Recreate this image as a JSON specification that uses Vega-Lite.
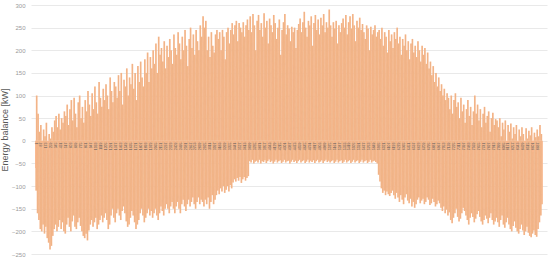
{"$schema":"https://vega.github.io/schema/vega-lite/v6.json","width":516,"height":249,"autosize":"none","padding":{"left":31,"top":5,"right":3,"bottom":5},"background":"white","config":{"view":{"stroke":null},"font":"Liberation Sans"},
"data":{"values":[
{"h":1,"v":-60},{"h":4,"v":-110},{"h":13,"v":100},{"h":28,"v":-160},{"h":37,"v":60},{"h":52,"v":-175},{"h":61,"v":20},{"h":76,"v":-195},{"h":85,"v":35},{"h":100,"v":-200},{"h":109,"v":-10},{"h":124,"v":-185},{"h":133,"v":25},{"h":148,"v":-205},{"h":157,"v":10},{"h":172,"v":-190},{"h":181,"v":40},{"h":196,"v":-215},{"h":205,"v":-20},{"h":220,"v":-225},{"h":229,"v":15},{"h":244,"v":-240},{"h":253,"v":5},{"h":268,"v":-232},{"h":277,"v":30},{"h":292,"v":-210},{"h":301,"v":20},{"h":316,"v":-195},{"h":325,"v":45},{"h":340,"v":-185},{"h":349,"v":55},{"h":364,"v":-200},{"h":373,"v":30},{"h":388,"v":-190},{"h":397,"v":60},{"h":412,"v":-175},{"h":421,"v":25},{"h":436,"v":-195},{"h":445,"v":50},{"h":460,"v":-180},{"h":469,"v":40},{"h":484,"v":-200},{"h":493,"v":65},
{"h":508,"v":-205},{"h":517,"v":55},{"h":532,"v":-185},{"h":541,"v":80},{"h":556,"v":-170},{"h":565,"v":35},{"h":580,"v":-190},{"h":589,"v":70},{"h":604,"v":-200},{"h":613,"v":90},{"h":628,"v":-178},{"h":637,"v":45},{"h":652,"v":-165},{"h":661,"v":95},{"h":676,"v":-190},{"h":685,"v":60},{"h":700,"v":-195},{"h":709,"v":30},{"h":724,"v":-180},{"h":733,"v":85},{"h":748,"v":-170},{"h":757,"v":100},{"h":772,"v":-188},{"h":781,"v":50},{"h":796,"v":-200},{"h":805,"v":75},{"h":820,"v":-210},{"h":829,"v":40},{"h":844,"v":-215},{"h":853,"v":90},{"h":868,"v":-205},{"h":877,"v":65},{"h":892,"v":-220},{"h":901,"v":110},{"h":916,"v":-198},{"h":925,"v":80},{"h":940,"v":-185},{"h":949,"v":55},{"h":964,"v":-175},{"h":973,"v":105},{"h":988,"v":-190},{"h":997,"v":70},{"h":1012,"v":-180},{"h":1021,"v":120},{"h":1036,"v":-170},{"h":1045,"v":85},{"h":1060,"v":-195},{"h":1069,"v":60},{"h":1084,"v":-185},{"h":1093,"v":130},{"h":1108,"v":-175},{"h":1117,"v":95},{"h":1132,"v":-165},{"h":1141,"v":75},{"h":1156,"v":-180},{"h":1165,"v":115},
{"h":1180,"v":-170},{"h":1189,"v":90},{"h":1204,"v":-160},{"h":1213,"v":125},{"h":1228,"v":-175},{"h":1237,"v":100},{"h":1252,"v":-195},{"h":1261,"v":70},{"h":1276,"v":-185},{"h":1285,"v":140},{"h":1300,"v":-165},{"h":1309,"v":110},{"h":1324,"v":-150},{"h":1333,"v":85},{"h":1348,"v":-170},{"h":1357,"v":130},{"h":1372,"v":-180},{"h":1381,"v":120},{"h":1396,"v":-160},{"h":1405,"v":95},{"h":1420,"v":-150},{"h":1429,"v":145},{"h":1444,"v":-165},{"h":1453,"v":110},{"h":1468,"v":-175},{"h":1477,"v":150},{"h":1492,"v":-155},{"h":1501,"v":80},{"h":1516,"v":-145},{"h":1525,"v":135},{"h":1540,"v":-160},{"h":1549,"v":120},{"h":1564,"v":-178},{"h":1573,"v":160},{"h":1588,"v":-190},{"h":1597,"v":100},{"h":1612,"v":-185},{"h":1621,"v":140},{"h":1636,"v":-170},{"h":1645,"v":125},{"h":1660,"v":-155},{"h":1669,"v":170},{"h":1684,"v":-165},{"h":1693,"v":115},{"h":1708,"v":-180},{"h":1717,"v":150},{"h":1732,"v":-195},{"h":1741,"v":90},{"h":1756,"v":-185},{"h":1765,"v":165},{"h":1780,"v":-175},{"h":1789,"v":130},{"h":1804,"v":-160},{"h":1813,"v":175},{"h":1828,"v":-150},{"h":1837,"v":140},{"h":1852,"v":-165},{"h":1861,"v":120},{"h":1876,"v":-180},{"h":1885,"v":180},{"h":1900,"v":-170},{"h":1909,"v":150},{"h":1924,"v":-160},{"h":1933,"v":195},{"h":1948,"v":-150},{"h":1957,"v":130},{"h":1972,"v":-165},{"h":1981,"v":185},{"h":1996,"v":-155},{"h":2005,"v":160},
{"h":2020,"v":-170},{"h":2029,"v":200},{"h":2044,"v":-160},{"h":2053,"v":170},{"h":2068,"v":-150},{"h":2077,"v":215},{"h":2092,"v":-165},{"h":2101,"v":150},{"h":2116,"v":-175},{"h":2125,"v":230},{"h":2140,"v":-160},{"h":2149,"v":190},{"h":2164,"v":-145},{"h":2173,"v":205},{"h":2188,"v":-155},{"h":2197,"v":175},{"h":2212,"v":-165},{"h":2221,"v":220},{"h":2236,"v":-150},{"h":2245,"v":160},{"h":2260,"v":-140},{"h":2269,"v":210},{"h":2284,"v":-150},{"h":2293,"v":185},{"h":2308,"v":-160},{"h":2317,"v":225},{"h":2332,"v":-145},{"h":2341,"v":200},{"h":2356,"v":-135},{"h":2365,"v":170},{"h":2380,"v":-150},{"h":2389,"v":235},{"h":2404,"v":-160},{"h":2413,"v":205},{"h":2428,"v":-145},{"h":2437,"v":190},{"h":2452,"v":-135},{"h":2461,"v":240},{"h":2476,"v":-150},{"h":2485,"v":215},{"h":2500,"v":-160},{"h":2509,"v":180},{"h":2524,"v":-140},{"h":2533,"v":230},{"h":2548,"v":-130},{"h":2557,"v":200},{"h":2572,"v":-145},{"h":2581,"v":245},{"h":2596,"v":-155},{"h":2605,"v":210},{"h":2620,"v":-140},{"h":2629,"v":165},{"h":2644,"v":-130},{"h":2653,"v":225},{"h":2668,"v":-145},{"h":2677,"v":250},{"h":2692,"v":-135},{"h":2701,"v":205},{"h":2716,"v":-125},{"h":2725,"v":235},{"h":2740,"v":-140},{"h":2749,"v":190},{"h":2764,"v":-150},{"h":2773,"v":245},{"h":2788,"v":-135},{"h":2797,"v":220},{"h":2812,"v":-125},{"h":2821,"v":200},{"h":2836,"v":-140},{"h":2845,"v":255},{"h":2860,"v":-130},{"h":2869,"v":230},
{"h":2884,"v":-135},{"h":2893,"v":275},{"h":2908,"v":-145},{"h":2917,"v":250},{"h":2932,"v":-130},{"h":2941,"v":265},{"h":2956,"v":-140},{"h":2965,"v":200},{"h":2980,"v":-125},{"h":2989,"v":230},{"h":3004,"v":-150},{"h":3013,"v":185},{"h":3028,"v":-135},{"h":3037,"v":240},{"h":3052,"v":-120},{"h":3061,"v":210},{"h":3076,"v":-140},{"h":3085,"v":195},{"h":3100,"v":-130},{"h":3109,"v":235},{"h":3124,"v":-120},{"h":3133,"v":245},{"h":3148,"v":-110},{"h":3157,"v":225},{"h":3172,"v":-118},{"h":3181,"v":240},{"h":3196,"v":-105},{"h":3205,"v":200},{"h":3220,"v":-112},{"h":3229,"v":245},{"h":3244,"v":-100},{"h":3253,"v":230},{"h":3268,"v":-115},{"h":3277,"v":180},{"h":3292,"v":-108},{"h":3301,"v":240},{"h":3316,"v":-100},{"h":3325,"v":250},{"h":3340,"v":-112},{"h":3349,"v":215},{"h":3364,"v":-98},{"h":3373,"v":245},{"h":3388,"v":-105},{"h":3397,"v":260},{"h":3412,"v":-92},{"h":3421,"v":235},{"h":3436,"v":-85},{"h":3445,"v":255},{"h":3460,"v":-90},{"h":3469,"v":265},{"h":3484,"v":-82},{"h":3493,"v":220},{"h":3508,"v":-88},{"h":3517,"v":260},{"h":3532,"v":-80},{"h":3541,"v":250},{"h":3556,"v":-93},{"h":3565,"v":240},{"h":3580,"v":-85},{"h":3589,"v":262},{"h":3604,"v":-80},{"h":3613,"v":230},{"h":3628,"v":-88},{"h":3637,"v":255},{"h":3652,"v":-82},{"h":3661,"v":268},{"h":3676,"v":-78},{"h":3685,"v":245},
{"h":3700,"v":-45},{"h":3709,"v":275},{"h":3724,"v":-48},{"h":3733,"v":240},{"h":3748,"v":-42},{"h":3757,"v":280},{"h":3772,"v":-50},{"h":3781,"v":255},{"h":3796,"v":-46},{"h":3805,"v":200},{"h":3820,"v":-44},{"h":3829,"v":265},{"h":3844,"v":-48},{"h":3853,"v":278},{"h":3868,"v":-42},{"h":3877,"v":245},{"h":3892,"v":-50},{"h":3901,"v":260},{"h":3916,"v":-45},{"h":3925,"v":230},{"h":3940,"v":-47},{"h":3949,"v":282},{"h":3964,"v":-43},{"h":3973,"v":250},{"h":3988,"v":-49},{"h":3997,"v":265},{"h":4012,"v":-45},{"h":4021,"v":215},{"h":4036,"v":-41},{"h":4045,"v":270},{"h":4060,"v":-47},{"h":4069,"v":255},{"h":4084,"v":-44},{"h":4093,"v":240},{"h":4108,"v":-50},{"h":4117,"v":278},{"h":4132,"v":-46},{"h":4141,"v":260},{"h":4156,"v":-42},{"h":4165,"v":225},{"h":4180,"v":-48},{"h":4189,"v":250},{"h":4204,"v":-45},{"h":4213,"v":268},{"h":4228,"v":-43},{"h":4237,"v":190},{"h":4252,"v":-49},{"h":4261,"v":245},{"h":4276,"v":-46},{"h":4285,"v":262},{"h":4300,"v":-42},{"h":4309,"v":280},{"h":4324,"v":-48},{"h":4333,"v":235},{"h":4348,"v":-45},{"h":4357,"v":255},{"h":4372,"v":-44},{"h":4381,"v":248},{"h":4396,"v":-50},{"h":4405,"v":220},{"h":4420,"v":-46},{"h":4429,"v":252},{"h":4444,"v":-42},{"h":4453,"v":240},{"h":4468,"v":-47},{"h":4477,"v":250},{"h":4492,"v":-44},{"h":4501,"v":205},{"h":4516,"v":-49},{"h":4525,"v":245},{"h":4540,"v":-45},{"h":4549,"v":258},
{"h":4564,"v":-42},{"h":4573,"v":270},{"h":4588,"v":-48},{"h":4597,"v":240},{"h":4612,"v":-45},{"h":4621,"v":262},{"h":4636,"v":-43},{"h":4645,"v":285},{"h":4660,"v":-49},{"h":4669,"v":250},{"h":4684,"v":-46},{"h":4693,"v":230},{"h":4708,"v":-42},{"h":4717,"v":265},{"h":4732,"v":-48},{"h":4741,"v":255},{"h":4756,"v":-44},{"h":4765,"v":275},{"h":4780,"v":-47},{"h":4789,"v":210},{"h":4804,"v":-43},{"h":4813,"v":260},{"h":4828,"v":-49},{"h":4837,"v":278},{"h":4852,"v":-45},{"h":4861,"v":245},{"h":4876,"v":-42},{"h":4885,"v":268},{"h":4900,"v":-48},{"h":4909,"v":235},{"h":4924,"v":-46},{"h":4933,"v":272},{"h":4948,"v":-43},{"h":4957,"v":255},{"h":4972,"v":-49},{"h":4981,"v":280},{"h":4996,"v":-45},{"h":5005,"v":240},{"h":5020,"v":-42},{"h":5029,"v":262},{"h":5044,"v":-47},{"h":5053,"v":250},{"h":5068,"v":-44},{"h":5077,"v":290},{"h":5092,"v":-48},{"h":5101,"v":255},{"h":5116,"v":-45},{"h":5125,"v":230},{"h":5140,"v":-43},{"h":5149,"v":262},{"h":5164,"v":-49},{"h":5173,"v":248},{"h":5188,"v":-46},{"h":5197,"v":265},{"h":5212,"v":-42},{"h":5221,"v":215},{"h":5236,"v":-48},{"h":5245,"v":255},{"h":5260,"v":-45},{"h":5269,"v":240},{"h":5284,"v":-43},{"h":5293,"v":260},{"h":5308,"v":-49},{"h":5317,"v":270},{"h":5332,"v":-46},{"h":5341,"v":250},{"h":5356,"v":-42},{"h":5365,"v":278},{"h":5380,"v":-48},{"h":5389,"v":235},{"h":5404,"v":-45},{"h":5413,"v":262},{"h":5428,"v":-43},{"h":5437,"v":275},{"h":5452,"v":-49},{"h":5461,"v":248},{"h":5476,"v":-46},{"h":5485,"v":280},{"h":5500,"v":-42},{"h":5509,"v":255},{"h":5524,"v":-48},{"h":5533,"v":220},{"h":5548,"v":-45},{"h":5557,"v":265},{"h":5572,"v":-43},{"h":5581,"v":250},{"h":5596,"v":-49},{"h":5605,"v":272},{"h":5620,"v":-46},{"h":5629,"v":245},{"h":5644,"v":-42},{"h":5653,"v":258},{"h":5668,"v":-48},{"h":5677,"v":240},{"h":5692,"v":-45},{"h":5701,"v":225},{"h":5716,"v":-43},{"h":5725,"v":255},{"h":5740,"v":-49},{"h":5749,"v":248},{"h":5764,"v":-46},{"h":5773,"v":200},{"h":5788,"v":-42},{"h":5797,"v":252},{"h":5812,"v":-48},{"h":5821,"v":235},{"h":5836,"v":-45},{"h":5845,"v":245},{"h":5860,"v":-44},{"h":5869,"v":255},{"h":5884,"v":-47},{"h":5893,"v":230},{"h":5908,"v":-50},{"h":5917,"v":240},
{"h":5932,"v":-75},{"h":5941,"v":245},{"h":5956,"v":-90},{"h":5965,"v":225},{"h":5980,"v":-105},{"h":5989,"v":250},{"h":6004,"v":-115},{"h":6013,"v":210},{"h":6028,"v":-110},{"h":6037,"v":240},{"h":6052,"v":-120},{"h":6061,"v":230},{"h":6076,"v":-112},{"h":6085,"v":195},{"h":6100,"v":-118},{"h":6109,"v":245},{"h":6124,"v":-122},{"h":6133,"v":220},{"h":6148,"v":-115},{"h":6157,"v":235},{"h":6172,"v":-110},{"h":6181,"v":205},{"h":6196,"v":-120},{"h":6205,"v":240},{"h":6220,"v":-128},{"h":6229,"v":225},{"h":6244,"v":-115},{"h":6253,"v":250},{"h":6268,"v":-125},{"h":6277,"v":215},{"h":6292,"v":-135},{"h":6301,"v":230},{"h":6316,"v":-120},{"h":6325,"v":190},{"h":6340,"v":-130},{"h":6349,"v":225},{"h":6364,"v":-140},{"h":6373,"v":210},{"h":6388,"v":-125},{"h":6397,"v":235},{"h":6412,"v":-118},{"h":6421,"v":200},{"h":6436,"v":-132},{"h":6445,"v":220},{"h":6460,"v":-138},{"h":6469,"v":180},{"h":6484,"v":-128},{"h":6493,"v":215},{"h":6508,"v":-145},{"h":6517,"v":225},{"h":6532,"v":-135},{"h":6541,"v":195},{"h":6556,"v":-148},{"h":6565,"v":210},{"h":6580,"v":-140},{"h":6589,"v":185},{"h":6604,"v":-130},{"h":6613,"v":220},{"h":6628,"v":-125},{"h":6637,"v":200},{"h":6652,"v":-138},{"h":6661,"v":175},{"h":6676,"v":-132},{"h":6685,"v":210},{"h":6700,"v":-128},{"h":6709,"v":190},{"h":6724,"v":-140},{"h":6733,"v":205},{"h":6748,"v":-135},{"h":6757,"v":170},{"h":6772,"v":-125},{"h":6781,"v":195},{"h":6796,"v":-130},{"h":6805,"v":160},{"h":6820,"v":-142},{"h":6829,"v":175},{"h":6844,"v":-138},{"h":6853,"v":145},{"h":6868,"v":-128},{"h":6877,"v":165},{"h":6892,"v":-135},{"h":6901,"v":130},{"h":6916,"v":-145},{"h":6925,"v":150},{"h":6940,"v":-140},{"h":6949,"v":120},{"h":6964,"v":-132},{"h":6973,"v":140},{"h":6988,"v":-138},{"h":6997,"v":110},{"h":7012,"v":-148},{"h":7021,"v":125},{"h":7036,"v":-155},{"h":7045,"v":100},{"h":7060,"v":-145},{"h":7069,"v":115},{"h":7084,"v":-160},{"h":7093,"v":90},{"h":7108,"v":-152},{"h":7117,"v":105},
{"h":7132,"v":-165},{"h":7141,"v":95},{"h":7156,"v":-158},{"h":7165,"v":70},{"h":7180,"v":-175},{"h":7189,"v":100},{"h":7204,"v":-182},{"h":7213,"v":60},{"h":7228,"v":-170},{"h":7237,"v":90},{"h":7252,"v":-160},{"h":7261,"v":105},{"h":7276,"v":-150},{"h":7285,"v":75},{"h":7300,"v":-168},{"h":7309,"v":85},{"h":7324,"v":-178},{"h":7333,"v":50},{"h":7348,"v":-172},{"h":7357,"v":95},{"h":7372,"v":-160},{"h":7381,"v":65},{"h":7396,"v":-148},{"h":7405,"v":80},{"h":7420,"v":-155},{"h":7429,"v":40},{"h":7444,"v":-165},{"h":7453,"v":70},{"h":7468,"v":-175},{"h":7477,"v":90},{"h":7492,"v":-185},{"h":7501,"v":55},{"h":7516,"v":-170},{"h":7525,"v":75},{"h":7540,"v":-160},{"h":7549,"v":35},{"h":7564,"v":-168},{"h":7573,"v":65},{"h":7588,"v":-180},{"h":7597,"v":100},{"h":7612,"v":-172},{"h":7621,"v":60},{"h":7636,"v":-162},{"h":7645,"v":80},{"h":7660,"v":-155},{"h":7669,"v":45},{"h":7684,"v":-168},{"h":7693,"v":70},{"h":7708,"v":-178},{"h":7717,"v":30},{"h":7732,"v":-185},{"h":7741,"v":60},{"h":7756,"v":-175},{"h":7765,"v":75},{"h":7780,"v":-165},{"h":7789,"v":40},{"h":7804,"v":-172},{"h":7813,"v":55},{"h":7828,"v":-182},{"h":7837,"v":65},{"h":7852,"v":-170},{"h":7861,"v":20},{"h":7876,"v":-160},{"h":7885,"v":50},{"h":7900,"v":-175},{"h":7909,"v":62},{"h":7924,"v":-185},{"h":7933,"v":35},{"h":7948,"v":-178},{"h":7957,"v":48},
{"h":7972,"v":-170},{"h":7981,"v":45},{"h":7996,"v":-180},{"h":8005,"v":30},{"h":8020,"v":-190},{"h":8029,"v":50},{"h":8044,"v":-175},{"h":8053,"v":10},{"h":8068,"v":-165},{"h":8077,"v":40},{"h":8092,"v":-185},{"h":8101,"v":25},{"h":8116,"v":-192},{"h":8125,"v":45},{"h":8140,"v":-180},{"h":8149,"v":-15},{"h":8164,"v":-170},{"h":8173,"v":35},{"h":8188,"v":-185},{"h":8197,"v":20},{"h":8212,"v":-195},{"h":8221,"v":38},{"h":8236,"v":-200},{"h":8245,"v":5},{"h":8260,"v":-188},{"h":8269,"v":30},{"h":8284,"v":-178},{"h":8293,"v":15},{"h":8308,"v":-192},{"h":8317,"v":35},{"h":8332,"v":-200},{"h":8341,"v":-20},{"h":8356,"v":-205},{"h":8365,"v":25},{"h":8380,"v":-195},{"h":8389,"v":10},{"h":8404,"v":-185},{"h":8413,"v":30},{"h":8428,"v":-198},{"h":8437,"v":15},{"h":8452,"v":-208},{"h":8461,"v":-10},{"h":8476,"v":-200},{"h":8485,"v":28},{"h":8500,"v":-190},{"h":8509,"v":5},{"h":8524,"v":-203},{"h":8533,"v":22},{"h":8548,"v":-210},{"h":8557,"v":12},{"h":8572,"v":-213},{"h":8581,"v":30},{"h":8596,"v":-205},{"h":8605,"v":-25},{"h":8620,"v":-198},{"h":8629,"v":18},{"h":8644,"v":-208},{"h":8653,"v":8},{"h":8668,"v":-212},{"h":8677,"v":25},{"h":8692,"v":-195},{"h":8701,"v":10},{"h":8716,"v":-180},{"h":8725,"v":35},{"h":8740,"v":-165},{"h":8749,"v":15},{"h":8760,"v":-140}
]},
"encoding":{
"x":{"field":"h","type":"quantitative","scale":{"domain":[1,8760],"nice":false,"zero":false},"axis":{"orient":"bottom","offset":-113,"values":[1,87,173,259,345,431,517,603,689,775,861,947,1033,1119,1205,1291,1377,1463,1549,1635,1721,1807,1893,1979,2065,2151,2237,2323,2409,2495,2581,2667,2753,2839,2925,3011,3097,3183,3269,3355,3441,3527,3613,3699,3785,3871,3957,4043,4129,4215,4301,4387,4473,4559,4645,4731,4817,4903,4989,5075,5161,5247,5333,5419,5505,5591,5677,5763,5849,5935,6021,6107,6193,6279,6365,6451,6537,6623,6709,6795,6881,6967,7053,7139,7225,7311,7397,7483,7569,7655,7741,7827,7913,7999,8085,8171,8257,8343,8429,8515,8601,8687],"format":"d","labelAngle":-90,"labelFontSize":3.5,"labelColor":"#595959","labelPadding":1,"ticks":false,"domain":false,"grid":false,"title":null,"zindex":1,"labelOverlap":false,"labelBound":false,"labelFlush":false}},
"y":{"field":"v","type":"quantitative","scale":{"domain":[-250,300],"nice":false,"zero":false},"axis":{"values":[-250,-200,-150,-100,-50,0,50,100,150,200,250,300],"title":"Energy balance [kW]","titleFontSize":9,"titleFontWeight":"normal","titleColor":"#595959","titlePadding":2,"labelFontSize":6,"labelColor":"#9a9a9a","labelPadding":6,"ticks":false,"domain":false,"grid":true,"gridColor":"#e3e3e3","gridWidth":0.8,"zindex":0}}
},
"layer":[
{"mark":{"type":"bar","width":1.7,"color":"#FAB78D","opacity":1},"encoding":{"y2":{"datum":0}}},
{"mark":{"type":"line","color":"#BFA468","strokeWidth":0.3,"opacity":0.3}}
]}
